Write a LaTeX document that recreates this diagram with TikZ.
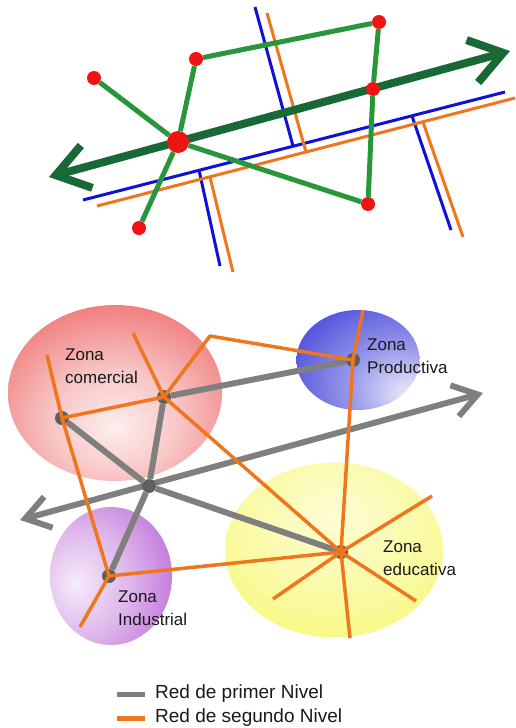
\documentclass[tikz,border=0pt]{standalone}
\usepackage{fontspec}
\setmainfont{Liberation Sans}
\usepackage{xcolor}
\usepackage{tikz}
\usetikzlibrary{arrows.meta,shapes.geometric}
\definecolor{verdeosc}{HTML}{196937}
\definecolor{verde}{HTML}{2A963C}
\definecolor{azul}{HTML}{1010D8}
\definecolor{naranja}{HTML}{F0761E}
\definecolor{rojo}{HTML}{EE1414}
\definecolor{gris}{HTML}{7F7F7F}
\definecolor{grisosc}{HTML}{5F5F5F}
\definecolor{zrojo}{HTML}{EC5A5A}
\definecolor{zazul}{HTML}{4A4ADC}
\definecolor{zamar}{HTML}{F6F65A}
\definecolor{zlila}{HTML}{B45AD2}
\pgfdeclareradialshading{zcom}{\pgfpoint{0bp}{-10bp}}{color(0bp)=(zrojo!10!white); color(15bp)=(zrojo!35!white); color(35bp)=(zrojo!85!white); color(50bp)=(zrojo); color(100bp)=(zrojo!95!black)}
\pgfdeclareradialshading{zprod}{\pgfpoint{22bp}{-18bp}}{color(0bp)=(zazul!8!white); color(20bp)=(zazul!55!white); color(45bp)=(zazul); color(100bp)=(zazul)}
\pgfdeclareradialshading{zedu}{\pgfpoint{0bp}{10bp}}{color(0bp)=(zamar!25!white); color(25bp)=(zamar!60!white); color(45bp)=(zamar); color(100bp)=(zamar)}
\pgfdeclareradialshading{zind}{\pgfpoint{-15bp}{-3bp}}{color(0bp)=(zlila!12!white); color(20bp)=(zlila!45!white); color(45bp)=(zlila); color(100bp)=(zlila)}

\begin{document}
\begin{tikzpicture}[x=1pt, y=-1pt,
  rdot/.style={circle, fill=rojo, inner sep=0, minimum size=14pt},
  hub/.style={circle, fill=grisosc, inner sep=0, minimum size=14pt},
  zona/.style={ellipse, inner sep=0},
  lbl/.style={anchor=north west, align=left, inner sep=0, text=black!90, font=\fontsize{17}{23}\selectfont},
  ley/.style={anchor=north west, inner sep=0, text=black!90, font=\fontsize{19}{23}\selectfont},
  vl/.style={verde, line width=5pt},
  bl/.style={azul, line width=3pt}, ol/.style={naranja, line width=3pt},
  gl/.style={gris, line width=6pt}, rl/.style={naranja, line width=3.5pt, line join=round},
  flecha/.style={verdeosc, line width=8pt, {Straight Barb[length=32pt, width=44pt]}-{Straight Barb[length=32pt, width=44pt]}},
  flechag/.style={gris, line width=6pt, {Straight Barb[length=24pt, width=32pt]}-{Straight Barb[length=24pt, width=32pt]}}]
\useasboundingbox (0,0) rectangle (515,728);
\draw[bl] (83,200) -- (505,92); \draw[bl] (255,7) -- (293,146);
\draw[bl] (199,170) -- (220,266); \draw[bl] (412,116) -- (451,230);
\draw[ol] (97,206) -- (515,98); \draw[ol] (267,13) -- (306,152);
\draw[ol] (210,177) -- (233,272); \draw[ol] (423,122) -- (463,237);
\coordinate (v1) at (49,177); \coordinate (v2) at (510,51);
\draw[flecha] (v1) -- (v2);
\node[rdot, minimum size=22pt] (a) at (178,142) {};
\node[rdot] (b) at (94,78) {};
\node[rdot] (c) at (196,59) {};
\node[rdot] (d) at (379,22) {};
\node[rdot] (e) at (373,89) {};
\node[rdot] (f) at (368,204) {};
\node[rdot] (g) at (139,228) {};
\draw[vl] (b) -- (a) -- (c) -- (d) -- (e) -- (f) -- (a) -- (g);
\node[zona, minimum width=214pt, minimum height=176pt, shading=zcom] (zc) at (115,393) {};
\node[zona, minimum width=123pt, minimum height=100pt, shading=zprod] (zp) at (358,360) {};
\node[zona, minimum width=218pt, minimum height=175pt, shading=zedu] (ze) at (334,550) {};
\node[zona, minimum width=122pt, minimum height=138pt, shading=zind] (zi) at (111,576) {};
\coordinate (g1) at (20,520); \coordinate (g2) at (483,393);
\draw[flechag] (g1) -- (g2);
\node[hub] (n0) at (149,486) {};
\node[hub] (n1) at (62,418) {};
\node[hub] (n2) at (164,397) {};
\node[hub] (n3) at (353,360) {};
\node[hub] (n4) at (109,576) {};
\node[hub] (n5) at (341,552) {};
\draw[gl] (n2) -- (n3) (n1) -- (n0) (n2) -- (n0) (n0) -- (n4) (n0) -- (n5);
\coordinate (r1) at (47,355); \coordinate (r2) at (133,333); \coordinate (r3) at (210,336);
\coordinate (r4) at (363,310); \coordinate (r5) at (350,638); \coordinate (r6) at (80,627);
\coordinate (r7) at (432,496); \coordinate (r8) at (273,599); \coordinate (r9) at (416,601);
\draw[rl] (r1) -- (n1.center) -- (n4.center) -- (r6);
\draw[rl] (n1.center) -- (n2.center) -- (r3) -- (n3.center) -- (r4);
\draw[rl] (r2) -- (n2.center) -- (n5.center);
\draw[rl] (n3.center) -- (n5.center) -- (r5);
\draw[rl] (n4.center) -- (n5.center) -- (r7);
\draw[rl] (r8) -- (n5.center) -- (r9);
\node[lbl] (tc) at (65,349) {Zona\\comercial};
\node[lbl] (tp) at (367,339) {Zona\\Productiva};
\node[lbl] (te) at (383,541) {Zona\\educativa};
\node[lbl] (ti) at (118,591) {Zona\\Industrial};
\node[ley] (l1) at (155,685) {Red de primer Nivel};
\node[ley] (l2) at (155,709) {Red de segundo Nivel};
\draw[gris, line width=5pt] ([xshift=-10pt]l1.west) -- ++(-28,0);
\draw[naranja, line width=5pt] ([xshift=-10pt]l2.west) -- ++(-28,0);
\end{tikzpicture}
\end{document}
